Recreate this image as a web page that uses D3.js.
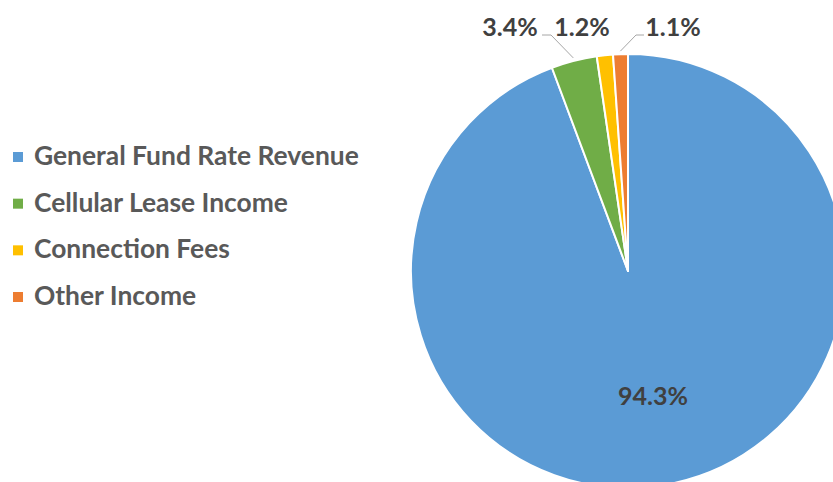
<!DOCTYPE html>
<html>
<head>
<meta charset="utf-8">
<script src="https://cdn.jsdelivr.net/npm/d3@7"></script>
<style>
  html, body { margin: 0; padding: 0; background: #fff; }
  svg { display: block; }
  text { font-family: Lato, "Open Sans", sans-serif; font-weight: bold; }
</style>
</head>
<body>
<script>
// Data
const categories = ["General Fund Rate Revenue", "Cellular Lease Income", "Connection Fees", "Other Income"];
const values = [94.3, 3.4, 1.2, 1.1];
const valueLabels = ["94.3%", "3.4%", "1.2%", "1.1%"];
const colors = ["#5B9BD5", "#70AD47", "#FFC000", "#ED7D31"];

const W = 833, H = 482;
const svg = d3.select("body").append("svg").attr("width", W).attr("height", H);

const cx = 628, cy = 271, R = 217;
const pie = d3.pie().sort(null).value(d => d)(values);
const arc = d3.arc().innerRadius(0).outerRadius(R);

const g = svg.append("g").attr("transform", `translate(${cx},${cy})`);
g.selectAll("path.slice").data(pie).join("path")
  .attr("class", "slice")
  .attr("d", arc)
  .attr("fill", (d, i) => colors[i])
  .attr("stroke", "#fff")
  .attr("stroke-width", 2)
  .attr("stroke-linejoin", "round");

// Data labels
const labelColor = "#404040";
function fitSize(sel, target, base) {
  sel.attr("font-size", base);
  const w = sel.node().getComputedTextLength();
  sel.attr("font-size", base * target / w);
  return base * target / w;
}

// big slice label inside
const big = g.append("text")
  .attr("text-anchor", "middle")
  .attr("fill", labelColor)
  .text(valueLabels[0]);
const fsLab = fitSize(big, 70, 22);
big.attr("x", 653 - cx).attr("y", 405 - cy);

// small-slice labels: positions (layout) for labels relative to page
const labelPos = [null, {x: 510, y: 36, anchor: "middle", elbow: 551, lx: 542},
                  {x: 582, y: 36, anchor: "middle"},
                  {x: 673, y: 36, anchor: "middle", elbow: 636, lx: 644}];
const leader = d3.arc().innerRadius(R + 3).outerRadius(R + 3);
pie.forEach((d, i) => {
  if (i === 0) return;
  const p = labelPos[i];
  svg.append("text")
    .attr("x", p.x).attr("y", p.y)
    .attr("text-anchor", p.anchor)
    .attr("fill", labelColor)
    .attr("font-size", fsLab)
    .text(valueLabels[i]);
  if (p.elbow) {
    const [ax, ay] = leader.centroid(d);
    svg.append("polyline")
      .attr("points", `${p.lx},${p.y - 1} ${p.elbow},${p.y - 1} ${cx + ax},${cy + ay}`)
      .attr("fill", "none")
      .attr("stroke", "#A6A6A6")
      .attr("stroke-width", 1);
  }
});

// Legend
const legend = svg.append("g");
const rowY = d3.scalePoint().domain(categories).range([157, 297]);
const items = legend.selectAll("g").data(categories).join("g")
  .attr("transform", d => `translate(0,${rowY(d)})`);
items.append("rect")
  .attr("x", 13).attr("y", -5).attr("width", 10).attr("height", 10)
  .attr("fill", (d, i) => colors[i]);
const txt = items.append("text")
  .attr("x", 34).attr("y", 8)
  .attr("fill", "#595959")
  .text(d => d);
const first = d3.select(txt.nodes()[0]);
const fsLeg = fitSize(first, 325, 22);
txt.attr("font-size", fsLeg);
</script>
</body>
</html>
